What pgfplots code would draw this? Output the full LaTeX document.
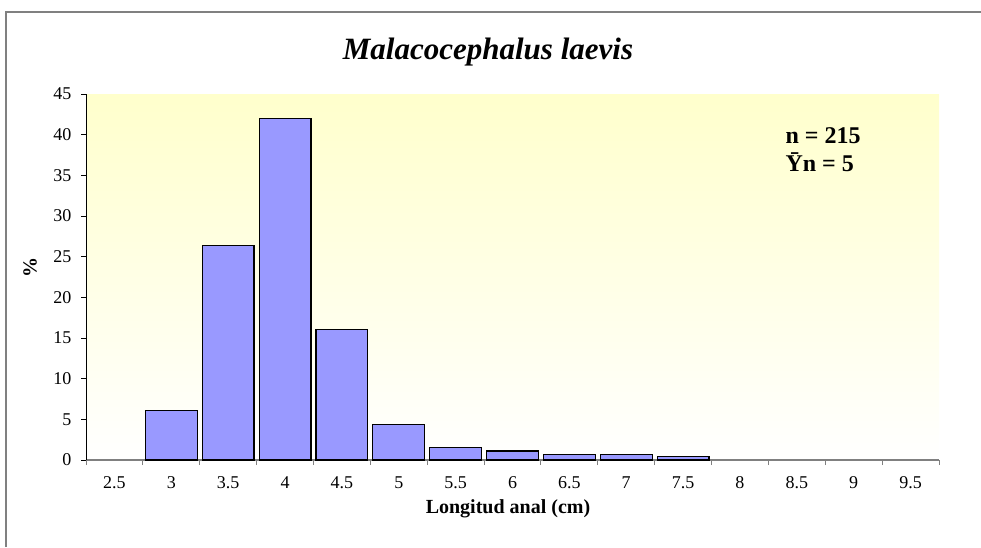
\documentclass[border=0pt]{standalone}
\usepackage{fontspec}
\setmainfont{Liberation Serif}
\usepackage{pgfplots}
\pgfplotsset{compat=1.18}
\definecolor{barblue}{HTML}{9999FF}
\definecolor{paleyellow}{HTML}{FFFFCC}
\definecolor{framegray}{HTML}{808080}

\begin{document}
\begin{tikzpicture}
\path[use as bounding box] (0pt,0pt) rectangle (981pt,547pt);
\draw[framegray, line width=2pt] (6pt,0pt) -- (6pt,535pt) -- (981pt,535pt);
\begin{axis}[
    at={(86pt,87pt)}, anchor=south west,
    scale only axis, width=853pt, height=366pt,
    xmin=-0.5, xmax=14.5, ymin=0, ymax=45,
    axis background/.style={top color=paleyellow, bottom color=white},
    axis x line=bottom, axis y line=left,
    x axis line style={-, draw=framegray, line width=1.2pt},
    y axis line style={-, draw=black, line width=1pt},
    xtick={0,...,14},
    xticklabels={2.5,3,3.5,4,4.5,5,5.5,6,6.5,7,7.5,8,8.5,9,9.5},
    minor xtick={-0.5,0.5,...,14.5},
    major x tick style={draw=none},
    minor x tick style={draw=framegray, line width=1pt},
    ytick={0,5,...,45},
    y tick style={draw=black, line width=1pt},
    tick align=outside,
    major tick length=5pt, minor tick length=5pt,
    tick label style={font=\fontsize{18}{20}\selectfont},
    xticklabel style={yshift=-8pt},
    yticklabel style={xshift=-6pt},
    /pgf/number format/assume math mode=true,
  ]
  \addplot[ybar, bar width=0.91, fill=barblue, draw=black, line width=1.2pt]
    coordinates {(1,6.1) (2,26.4) (3,42.0) (4,16.0) (5,4.4) (6,1.5)
                 (7,1.1) (8,0.7) (9,0.7) (10,0.4)};
\end{axis}
\node[font=\fontsize{31}{34}\selectfont\bfseries\itshape] at (488pt,495pt) {Malacocephalus laevis};
\node[font=\fontsize{20}{23}\selectfont\bfseries] at (508pt,38pt) {Longitud anal (cm)};
\node[font=\fontsize{20}{23}\selectfont\bfseries, rotate=90] at (30pt,280pt) {\%};
\node[font=\fontsize{24}{27}\selectfont\bfseries, anchor=base west] at (782pt,403pt) {n = 215};
\node[font=\fontsize{24}{27}\selectfont\bfseries, anchor=base west] at (782pt,375pt) {Ȳn = 5};
\end{tikzpicture}
\end{document}
